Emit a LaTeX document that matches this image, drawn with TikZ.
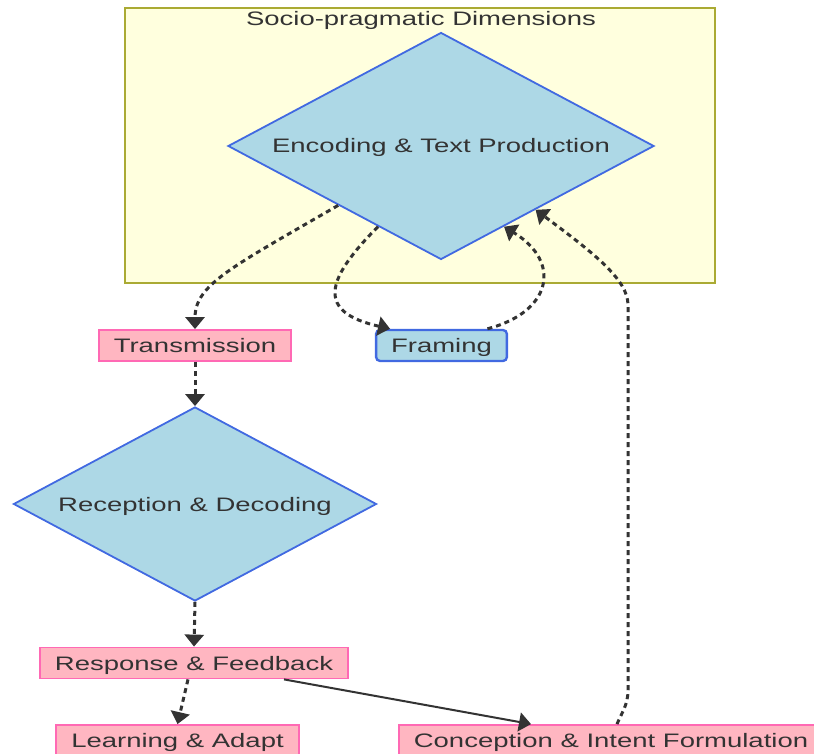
\documentclass[tikz,border=0pt]{standalone}
\usepackage{fontspec}
\setmainfont[FakeStretch=1.41]{Liberation Sans}
\usetikzlibrary{shapes.geometric,arrows.meta}
\definecolor{clusterfill}{HTML}{FFFFDE}
\definecolor{clusterline}{HTML}{AAAA33}
\definecolor{decfill}{HTML}{ADD8E6}
\definecolor{decline}{HTML}{4169E1}
\definecolor{boxfill}{HTML}{FFB6C1}
\definecolor{boxline}{HTML}{FF69B4}
\definecolor{ink}{HTML}{333333}
\begin{document}
\begin{tikzpicture}
    [x=1pt,y=-1pt,
    every node/.style={font=\fontsize{19.5}{23}\selectfont,text=ink},
    cluster/.style={rectangle,draw=clusterline,fill=clusterfill,line width=1.3pt},
    decision/.style={diamond,draw=decline,fill=decfill,line width=1.8pt,inner sep=0pt,aspect=1.9,text height=14pt,text depth=0pt},
    stage/.style={rectangle,draw=boxline,fill=boxfill,line width=1.8pt,inner xsep=15pt,inner ysep=0pt,minimum height=31pt,text height=14pt,text depth=0pt},
    framebox/.style={stage,draw=decline,fill=decfill,rounded corners=4pt,line width=2.4pt},
    flow/.style={draw=ink,line width=3pt,dash pattern=on 5pt off 4pt,-{Triangle[length=12pt,width=19pt]}},
    direct/.style={draw=ink,line width=2pt,-{Triangle[length=12pt,width=19pt]}}]
    \useasboundingbox (0,0) rectangle (814,754);
    \node[cluster,minimum width=590pt,minimum height=275pt] (dims) at (420,145.5) {};
    \node[anchor=base] (dimslabel) at (421,26) {Socio-pragmatic Dimensions};
    \node[decision,minimum width=426pt,minimum height=227pt] (enc) at (441,146) {Encoding \& Text Production};
    \node[stage] (trans) at (195,345.5) {Transmission};
    \node[framebox] (fram) at (441.5,345.5) {Framing};
    \node[decision,minimum width=363pt,minimum height=194pt] (rec) at (195,504) {Reception \& Decoding};
    \node[stage] (resp) at (194,663) {Response \& Feedback};
    \node[stage] (learn) at (177.5,740.5) {Learning \& Adapt};
    \node[stage] (conc) at (611,740.5) {Conception \& Intent Formulation};
    \draw[flow] (enc.-150) .. controls (230,268) and (195,285) .. (trans.north);
    \draw[flow] (enc.-128) .. controls (325,280) and (316,312) .. (fram.162);
    \draw[flow] (fram.20) .. controls (552,312) and (562,262) .. (enc.-52);
    \draw[flow] ([xshift=6pt]conc.north) .. controls (622,712) and (628,705) .. (628,690)
      -- (628,305) .. controls (628,280) and (595,254) .. (enc.-34);
    \draw[flow] (trans.south) -- (rec.north);
    \draw[flow] (rec.south) -- (resp.north);
    \draw[flow] ([xshift=-6pt]resp.south) -- (learn.north);
    \draw[direct] ([xshift=90pt]resp.south) -- ([xshift=-80pt]conc.north);
  \end{tikzpicture}
\end{document}
